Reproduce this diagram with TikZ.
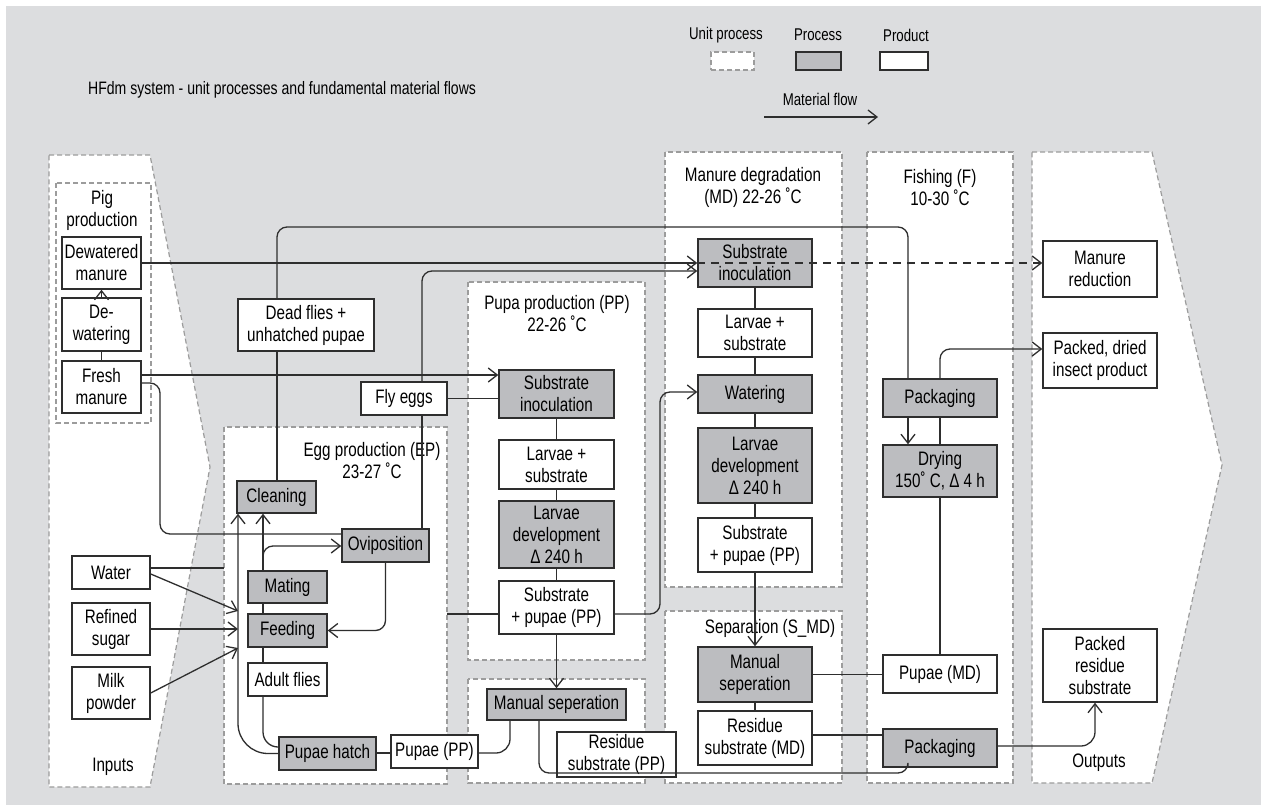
\documentclass[tikz,border=0pt]{standalone}
\usepackage{fontspec}
\setmainfont{Liberation Sans}[FakeStretch=0.78]
\usetikzlibrary{arrows.meta}
\definecolor{bgc}{HTML}{DCDDDF}
\definecolor{pgray}{HTML}{BCBDC0}
\definecolor{lc}{HTML}{2E2E2E}
\definecolor{dc}{HTML}{9C9C9C}
\begin{document}
\begin{tikzpicture}[x=1pt,y=-1pt,
  box/.style={draw=lc, line width=1.5pt, inner sep=0pt, align=center, font=\fontsize{19.5}{22}\selectfont},
  proc/.style={box, fill=pgray},
  prod/.style={box, fill=white},
  unit/.style={draw=dc, fill=white, line width=1.2pt, dash pattern=on 5pt off 3pt},
  lbl/.style={align=center, font=\fontsize{19.5}{22}\selectfont, inner sep=0pt},
  leg/.style={align=center, font=\fontsize{17}{20}\selectfont, inner sep=0pt},
  conn/.style={draw=lc, line width=1.3pt},
  flow/.style={conn, -{Straight Barb[length=9pt,width=14pt]}},
  rc/.style={rounded corners=10pt}
]
\useasboundingbox (0,0) rectangle (1261,805);
\fill[bgc] (6,6) rectangle (1261,805);

% title and legend
\node[anchor=west, inner sep=0pt, font=\fontsize{18}{21}\selectfont] (title) at (88,90) {HFdm system - unit processes and fundamental material flows};
\node[leg] (lu) at (726,35) {Unit process};
\node[leg] (lp) at (818,35) {Process};
\node[leg] (ld) at (906,35) {Product};
\node[unit, minimum width=43, minimum height=18, inner sep=0pt] (lur) at (732.5,61) {};
\node[proc, minimum width=45, minimum height=18] (lpr) at (818.5,61) {};
\node[prod, minimum width=48, minimum height=18] (lpd) at (904,61) {};
\node[leg] (lmf) at (820,99) {Material flow};
\coordinate (la) at (764,117);
\coordinate (lb) at (878,117);
\draw[flow] (la) -- (lb);

% unit process regions
\draw[unit] (49,155) -- (150,155) -- (210,467) -- (150,787) -- (49,787) -- cycle;
\draw[unit] (56,183) rectangle (151,423);
\draw[unit] (224,427) rectangle (447,784);
\draw[unit] (468,282) rectangle (645,660);
\draw[unit] (468,679) rectangle (645,783);
\draw[unit] (665,152) rectangle (842,587);
\draw[unit] (665,611) rectangle (842,783);
\draw[unit] (867,152) rectangle (1013,783);
\draw[unit] (1032,152) -- (1152,152) -- (1222,465) -- (1152,783) -- (1032,783) -- cycle;

% region labels
\node[lbl] (lpig) at (102,210.5) {Pig\\production};
\node[lbl] (linp) at (113,767) {Inputs};
\node[lbl] (lep) at (372,461) {Egg production (EP)\\23-27 ˚C};
\node[lbl] (lpp) at (557,313.5) {Pupa production (PP)\\22-26 ˚C};
\node[lbl] (lmd) at (753,187.5) {Manure degradation\\(MD) 22-26 ˚C};
\node[lbl] (lf) at (940,187.5) {Fishing (F)\\10-30 ˚C};
\node[lbl] (ls) at (770,628) {Separation (S\_MD)};
\node[lbl] (lout) at (1099,763) {Outputs};

% inputs
\node[prod, minimum width=79, minimum height=52] (dm) at (101.5,263) {Dewatered\\manure};
\node[prod, minimum width=79, minimum height=53] (dw) at (101.5,324.5) {De-\\watering};
\node[prod, minimum width=79, minimum height=52] (fm) at (101.5,387) {Fresh\\manure};
\node[prod, minimum width=78, minimum height=33] (water) at (111,572.5) {Water};
\node[prod, minimum width=78, minimum height=52] (sugar) at (111,629) {Refined\\sugar};
\node[prod, minimum width=78, minimum height=52] (milk) at (111,693) {Milk\\powder};

% egg production
\node[prod, minimum width=136, minimum height=52] (dead) at (306,325) {Dead flies +\\unhatched pupae};
\node[prod, minimum width=86, minimum height=33] (eggs) at (404,398.5) {Fly eggs};
\node[proc, minimum width=79, minimum height=32] (clean) at (276.5,497) {Cleaning};
\node[proc, minimum width=87, minimum height=33] (ovi) at (385.5,545.5) {Oviposition};
\node[proc, minimum width=79, minimum height=32] (mating) at (287.5,587) {Mating};
\node[proc, minimum width=79, minimum height=33] (feed) at (287.5,630.5) {Feeding};
\node[prod, minimum width=79, minimum height=33] (adult) at (287.5,679.5) {Adult flies};
\node[proc, minimum width=97, minimum height=33] (hatch) at (327.5,753.5) {Pupae hatch};
\node[prod, minimum width=87, minimum height=33] (pupp) at (434.5,751.5) {Pupae (PP)};

% pupa production
\node[proc, minimum width=115, minimum height=48] (ppsi) at (556.5,394) {Substrate\\inoculation};
\node[prod, minimum width=115, minimum height=49] (ppls) at (556.5,464.5) {Larvae +\\substrate};
\node[proc, minimum width=115, minimum height=67] (ppld) at (556.5,534.5) {Larvae\\development\\Δ 240 h};
\node[prod, minimum width=115, minimum height=53] (ppsp) at (556.5,607.5) {Substrate\\+ pupae (PP)};
\node[proc, minimum width=139, minimum height=31] (ppms) at (556.5,704.5) {Manual seperation};
\node[prod, minimum width=119, minimum height=45] (pprs) at (616.5,754.5) {Residue\\substrate (PP)};

% manure degradation
\node[proc, minimum width=114, minimum height=48] (mdsi) at (755,263) {Substrate\\inoculation};
\node[prod, minimum width=114, minimum height=48] (mdls) at (755,333) {Larvae +\\substrate};
\node[proc, minimum width=114, minimum height=38] (mdw) at (755,394) {Watering};
\node[proc, minimum width=114, minimum height=75] (mdld) at (755,465.5) {Larvae\\development\\Δ 240 h};
\node[prod, minimum width=114, minimum height=54] (mdsp) at (755,545) {Substrate\\+ pupae (PP)};
\node[proc, minimum width=114, minimum height=55] (mdms) at (755,674.5) {Manual\\seperation};
\node[prod, minimum width=114, minimum height=54] (mdrs) at (755,738) {Residue\\substrate (MD)};

% fishing
\node[proc, minimum width=114, minimum height=38] (pk1) at (940,398) {Packaging};
\node[proc, minimum width=114, minimum height=52] (dry) at (940,471) {Drying\\150˚ C, Δ 4 h};
\node[prod, minimum width=114, minimum height=38] (pmd) at (940,674) {Pupae (MD)};
\node[proc, minimum width=114, minimum height=38] (pk2) at (940,748) {Packaging};

% outputs
\node[prod, minimum width=114, minimum height=56] (mr) at (1100,269) {Manure\\reduction};
\node[prod, minimum width=114, minimum height=55] (pdip) at (1100,360.5) {Packed, dried\\insect product};
\node[prod, minimum width=114, minimum height=73] (prs) at (1100,665.5) {Packed\\residue\\substrate};

% connectors
\draw[flow] (dw.north) -- (dm.south);
\draw[conn] (fm.north) -- (dw.south);
\draw[flow] (dm.east) -- (dm.east -| mdsi.west);
\draw[flow] (fm.east |- 0,375) -- (ppsi.west |- 0,375);
\draw[conn, rc] (fm.east |- 0,383) -| (160,534) -- (ovi.west |- 0,534);
\draw[conn] (water.east |- 0,568) -- (224,568);
\draw[flow] (water.east |- 0,574) -- (238,611);
\draw[flow] (sugar.east) -- (238,629);
\draw[flow] (milk.east) -- (238,648);
\draw[flow, rounded corners=30pt] (hatch.west) -| (clean.south -| 238,0);
\draw[conn] (adult.north -| 263,0) -- (feed.south -| 263,0);
\draw[conn] (feed.north -| 263,0) -- (mating.south -| 263,0);
\draw[flow] (mating.north -| 263,0) -- (clean.south -| 263,0);
\draw[flow, rc] (mating.north -| 263,0) |- (ovi.west |- 0,546);
\draw[conn, rounded corners=15pt] (adult.south -| 263,0) |- (hatch.west |- 0,747);
\draw[flow, rc] (ovi.south) |- (feed.east);
\draw[conn] (ovi.north -| 422,0) -- (eggs.south -| 422,0);
\draw[flow, rc] (eggs.north -| 422,0) |- (mdsi.west |- 0,271);
\draw[conn] (eggs.east) -- (eggs.east -| ppsi.west);
\draw[conn] (clean.north -| 277,0) -- (dead.south -| 277,0);
\draw[conn, rc] (dead.north -| 277,0) |- (908,227) -- (pk1.north -| 908,0);
\draw[flow] (pk1.south -| 908,0) -- (dry.north -| 908,0);
\draw[conn] (dry.north) -- (pk1.south);
\draw[flow, rc] (pk1.north) |- (pdip.west |- 0,349);
\draw[conn] (dry.south) -- (pmd.north);
\draw[conn] (mdms.east) -- (mdms.east -| pmd.west);
\draw[conn] (mdrs.east |- 0,735) -- (pk2.west |- 0,735);
\draw[flow, rounded corners=14pt] (pk2.east |- 0,746) -| (prs.south -| 1095,0);
\draw[conn] (ppsi.south) -- (ppls.north);
\draw[conn] (ppls.south) -- (ppld.north);
\draw[conn] (ppld.south) -- (ppsp.north);
\draw[flow] (ppsp.south) -- (ppms.north);
\draw[conn] (ppsp.west |- 0,614) -- (447,614);
\draw[flow, rc] (ppsp.east |- 0,614) -| (660,392) -- (mdw.west |- 0,392);
\draw[conn, rounded corners=14pt] (ppms.south -| 510,0) |- (pupp.east |- 0,753);
\draw[conn] (hatch.east |- 0,753) -- (pupp.west |- 0,753);
\draw[conn, rc] (ppms.south -| 539,0) |- (908,773) -- (pk2.south -| 908,0);
\draw[conn] (mdsi.south) -- (mdls.north);
\draw[conn] (mdls.south) -- (mdw.north);
\draw[conn] (mdw.south) -- (mdld.north);
\draw[conn] (mdld.south) -- (mdsp.north);
\draw[flow] (mdsp.south) -- (mdms.north);
\draw[conn] (mdms.south) -- (mdrs.north);
\draw[flow, dash pattern=on 8pt off 6pt] (mdsi.west) -- (mdsi.west -| mr.west);
\end{tikzpicture}
\end{document}
